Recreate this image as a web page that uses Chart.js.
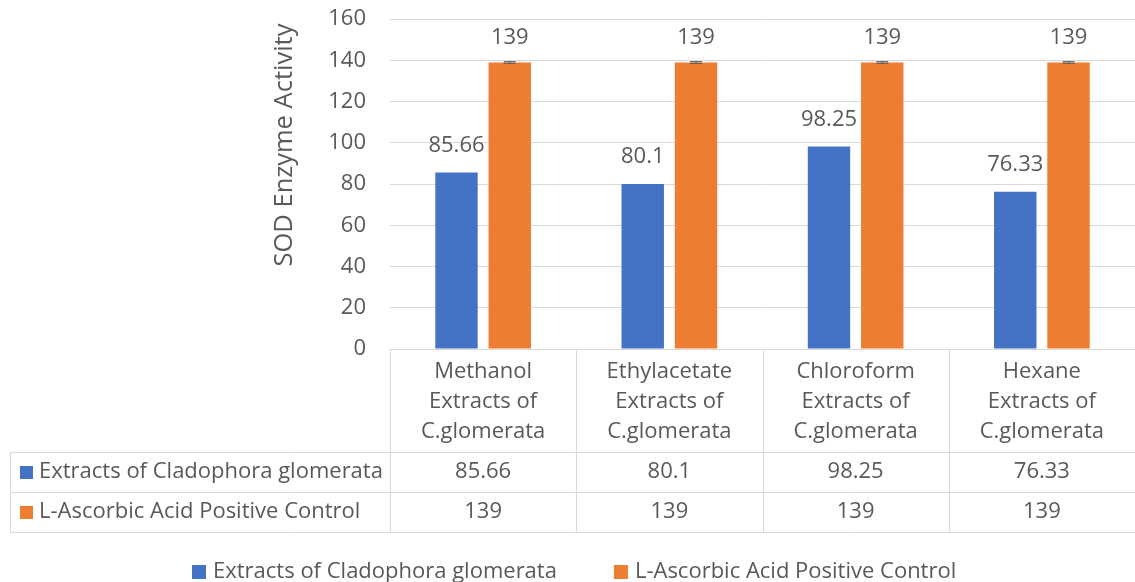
<!DOCTYPE html>
<html><head><meta charset="utf-8">
<script src="https://cdn.jsdelivr.net/npm/chart.js@4.4.1/dist/chart.umd.min.js"></script>
<style>html,body{margin:0;padding:0;background:#fff;}</style>
</head><body>
<canvas id="c" width="1135" height="582"></canvas>
<script>
const categories = [
  ["Methanol", "Extracts of", "C.glomerata"],
  ["Ethylacetate", "Extracts of", "C.glomerata"],
  ["Chloroform", "Extracts of", "C.glomerata"],
  ["Hexane", "Extracts of", "C.glomerata"]
];
const seriesNames = ["Extracts of Cladophora glomerata", "L-Ascorbic Acid Positive Control"];
const extractValues = [85.66, 80.1, 98.25, 76.33];
const controlValues = [139, 139, 139, 139];
const controlErrors = [0.4, 0.4, 0.4, 0.4];
const yTitle = "SOD Enzyme Activity";
const yMin = 0, yMax = 160, yStep = 20;

const FONT = "'Open Sans', sans-serif";
const FS = 22;
const TXT = "#595959";
const GRID = "#d9d9d9";
const COLORS = ["#4472C4", "#ED7D31"];

const extrasPlugin = {
  id: 'extras',
  afterDatasetsDraw(chart) {
    const ctx = chart.ctx;
    const y = chart.scales.y;
    ctx.save();
    const m1 = chart.getDatasetMeta(1);
    m1.data.forEach((el, i) => {
      const v = controlValues[i], e = controlErrors[i];
      const yt = y.getPixelForValue(v + e), yb = y.getPixelForValue(v - e);
      ctx.strokeStyle = TXT; ctx.lineWidth = 1;
      ctx.beginPath();
      ctx.moveTo(el.x, yt); ctx.lineTo(el.x, yb);
      ctx.moveTo(el.x - 6, yt); ctx.lineTo(el.x + 6, yt);
      ctx.moveTo(el.x - 6, yb); ctx.lineTo(el.x + 6, yb);
      ctx.stroke();
    });
    ctx.fillStyle = TXT;
    ctx.font = FS + "px " + FONT;
    ctx.textAlign = 'center';
    ctx.textBaseline = 'middle';
    chart.data.datasets.forEach((ds, di) => {
      chart.getDatasetMeta(di).data.forEach((el, i) => {
        ctx.fillText(String(ds.data[i]), el.x, el.y - (di === 1 ? 25 : 27));
      });
    });
    ctx.restore();
  },
  afterDraw(chart) {
    const ctx = chart.ctx;
    const xs = chart.scales.x;
    const area = chart.chartArea;
    const top = area.bottom;
    const rowTop1 = top + 103, rowTop2 = top + 143, rowBot = top + 183;
    const leftX = 10;
    const n = categories.length;
    const step = (area.right - area.left) / n;
    ctx.save();
    ctx.strokeStyle = GRID; ctx.lineWidth = 1;
    ctx.beginPath();
    for (let i = 0; i <= n; i++) {
      const bx = Math.round(xs.getPixelForValue(Math.min(i, n - 1)) + (i === n ? step / 2 : -step / 2)) + 0.5;
      ctx.moveTo(bx, top); ctx.lineTo(bx, rowBot);
    }
    ctx.moveTo(leftX + 0.5, rowTop1); ctx.lineTo(leftX + 0.5, rowBot);
    [rowTop1, rowTop2, rowBot].forEach(yy => { ctx.moveTo(leftX, yy + 0.5); ctx.lineTo(area.right, yy + 0.5); });
    ctx.stroke();

    ctx.fillStyle = TXT;
    ctx.font = FS + "px " + FONT;
    ctx.textAlign = 'center';
    ctx.textBaseline = 'middle';
    categories.forEach((lines, i) => {
      const cx = xs.getPixelForValue(i);
      lines.forEach((ln, k) => ctx.fillText(ln, cx, top + 23 + k * 30));
      ctx.fillText(String(extractValues[i]), cx, (rowTop1 + rowTop2) / 2);
      ctx.fillText(String(controlValues[i]), cx, (rowTop2 + rowBot) / 2);
    });
    ctx.textAlign = 'left';
    [rowTop1, rowTop2].forEach((rt, k) => {
      const cy = rt + 20;
      ctx.fillStyle = COLORS[k];
      ctx.fillRect(20, cy - 6, 13, 13);
      ctx.fillStyle = TXT;
      ctx.fillText(seriesNames[k], 39, cy);
    });
    // legend
    const ly = 572;
    const gap = 7, itemGap = 57, box = 14;
    let lx = 192;
    seriesNames.forEach((s, k) => {
      ctx.fillStyle = COLORS[k];
      ctx.fillRect(lx, ly - 7, box, box);
      ctx.fillStyle = TXT;
      ctx.fillText(s, lx + box + gap, ly);
      lx += box + gap + ctx.measureText(s).width + itemGap;
    });
    // y title
    ctx.font = "25.5px " + FONT;
    ctx.translate(285, 145);
    ctx.rotate(-Math.PI / 2);
    ctx.textAlign = 'center';
    ctx.fillText(yTitle, 0, 0);
    ctx.restore();
  }
};

new Chart(document.getElementById('c'), {
  type: 'bar',
  data: {
    labels: categories.map(c => c.join(' ')),
    datasets: [
      { label: seriesNames[0], data: extractValues, backgroundColor: COLORS[0] },
      { label: seriesNames[1], data: controlValues, backgroundColor: COLORS[1] }
    ]
  },
  options: {
    responsive: false,
    animation: false,
    devicePixelRatio: 1,
    categoryPercentage: 0.572,
    barPercentage: 0.796,
    layout: { padding: { top: 0, right: -10, bottom: 0, left: 0 } },
    plugins: { legend: { display: false }, tooltip: { enabled: false } },
    scales: {
      x: {
        ticks: { display: false },
        grid: { display: false },
        border: { display: false },
        afterFit(s) { s.height = 233; }
      },
      y: {
        min: yMin, max: yMax,
        ticks: { stepSize: yStep, color: TXT, font: { family: FONT, size: FS }, padding: 6 },
        grid: { color: GRID, drawTicks: true, tickLength: 18, tickColor: 'rgba(0,0,0,0)' },
        border: { display: false },
        afterFit(s) { s.width = 390; }
      }
    }
  },
  plugins: [extrasPlugin]
});
</script>
</body></html>
